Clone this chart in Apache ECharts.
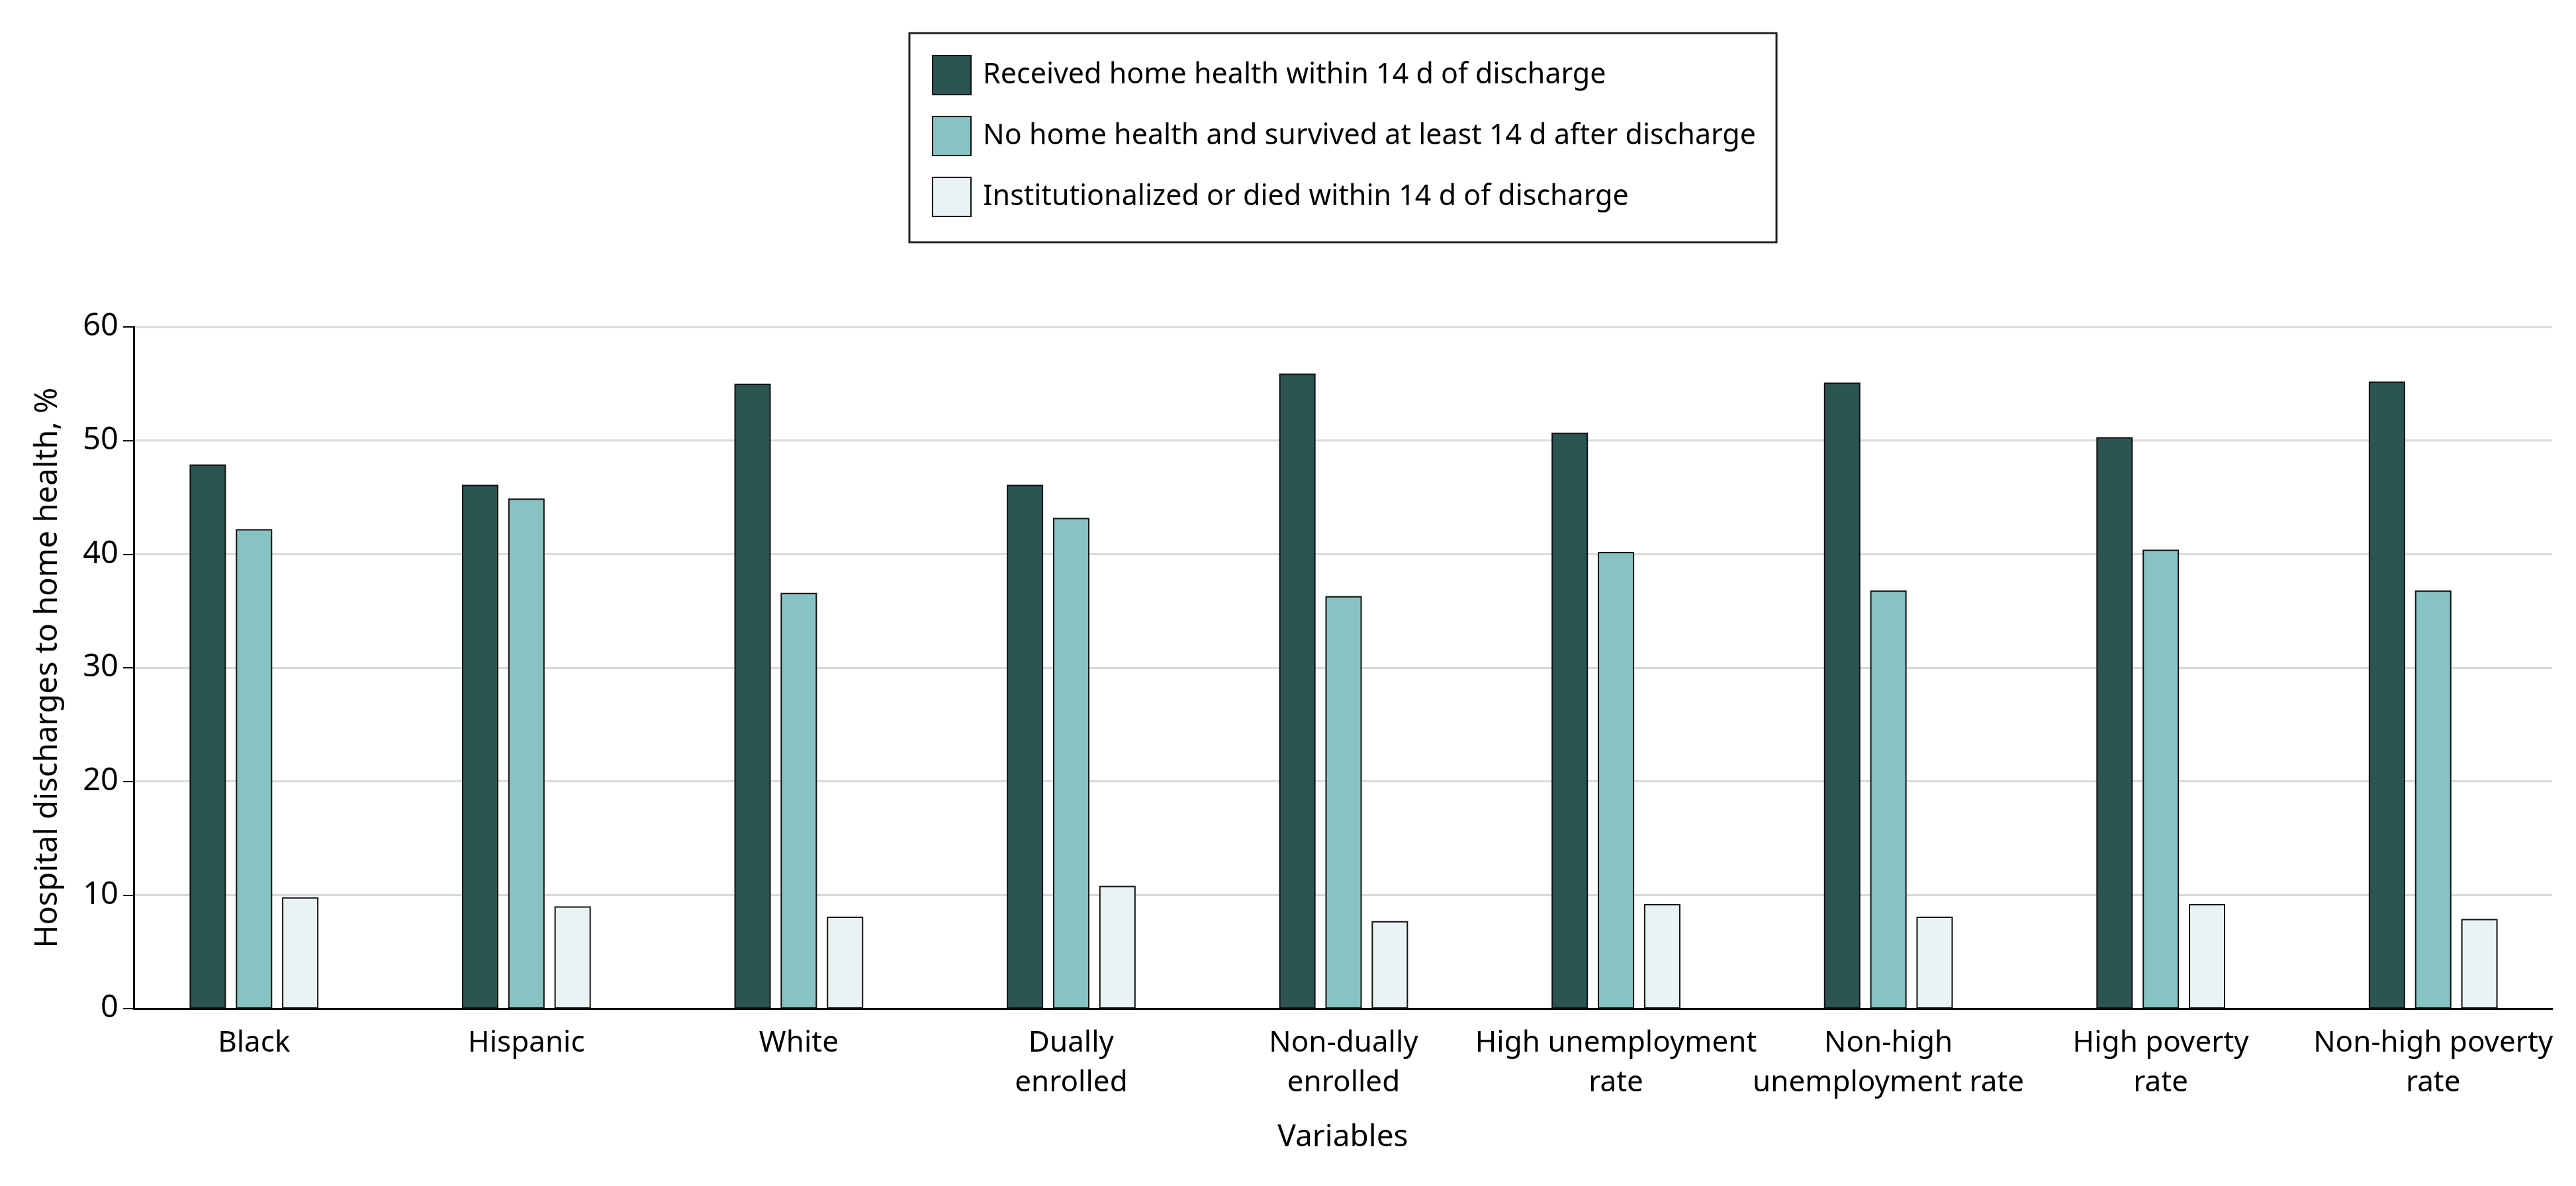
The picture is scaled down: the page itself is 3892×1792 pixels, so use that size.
<!DOCTYPE html>
<html>
<head>
<meta charset="utf-8">
<script src="https://cdn.jsdelivr.net/npm/echarts@6/dist/echarts.min.js"></script>
<style>
html,body{margin:0;padding:0;background:#fff;}
#chart{width:3892px;height:1792px;}
</style>
</head>
<body>
<div id="chart"></div>
<script>
const categories = ['Black', 'Hispanic', 'White', 'Dually\nenrolled', 'Non-dually\nenrolled',
  'High unemployment\nrate', 'Non-high\nunemployment rate', 'High poverty\nrate', 'Non-high poverty\nrate'];
const seriesNames = ['Received home health within 14 d of discharge',
  'No home health and survived at least 14 d after discharge',
  'Institutionalized or died within 14 d of discharge'];
const receivedHH = [47.9, 46.1, 55.0, 46.1, 55.9, 50.7, 55.1, 50.3, 55.2];
const noHHSurvived = [42.2, 44.9, 36.6, 43.2, 36.3, 40.2, 36.8, 40.4, 36.8];
const instDied = [9.8, 9.0, 8.1, 10.8, 7.7, 9.2, 8.1, 9.2, 7.9];
const yTicks = [0, 10, 20, 30, 40, 50, 60];
const colors = ['#2b5453', '#87c3c2', '#eaf3f4'];
const FONT = 'Noto Sans';

const chart = echarts.init(document.getElementById('chart'), null, {renderer: 'canvas'});
const values = [receivedHH, noHHSurvived, instDied];
const option = {
  backgroundColor: '#ffffff',
  animation: false,
  textStyle: {fontFamily: FONT, color: '#000'},
  legend: {
    orient: 'vertical',
    left: 1374, top: 50,
    padding: [33, 31, 38, 34],
    itemWidth: 58, itemHeight: 59, itemGap: 31,
    borderColor: '#222', borderWidth: 3,
    icon: 'rect',
    data: seriesNames,
    textStyle: {fontFamily: FONT, fontSize: 43, color: '#000', padding: [0, 0, 0, 13]}
  },
  grid: [
    {left: 178, right: 10, top: 494, bottom: 268},
    {left: 202, right: 36, top: 494, bottom: 268}
  ],
  xAxis: [
    {
      type: 'category', gridIndex: 0, data: categories,
      axisLine: {show: false}, axisTick: {show: false}, splitLine: {show: false},
      axisLabel: {margin: 22, fontSize: 44, lineHeight: 60, color: '#000', fontFamily: FONT, interval: 0}
    },
    {
      type: 'value', gridIndex: 1, min: 0, max: 1,
      axisLine: {show: true, lineStyle: {color: '#000', width: 3}},
      axisTick: {show: false}, axisLabel: {show: false}, splitLine: {show: false},
      name: 'Variables', nameLocation: 'middle', nameGap: 172,
      nameTextStyle: {fontSize: 46, color: '#000', fontFamily: FONT}
    }
  ],
  yAxis: [
    {type: 'value', gridIndex: 0, min: 0, max: 60, interval: 10, show: false, splitLine: {show: false}},
    {
      type: 'value', gridIndex: 1, min: 0, max: 60, interval: 10,
      axisLine: {show: true, lineStyle: {color: '#000', width: 3}},
      axisTick: {show: true, length: 16, lineStyle: {color: '#000', width: 2}},
      axisLabel: {margin: 23, fontSize: 47, color: '#000', fontFamily: FONT,
        formatter: v => yTicks.includes(v) ? String(v) : ''},
      splitLine: {show: true, lineStyle: {color: '#d9d9d9', width: 3}},
      name: 'Hospital discharges to home health, %', nameLocation: 'middle', nameGap: 106,
      nameTextStyle: {fontSize: 47, color: '#000', fontFamily: FONT}
    }
  ],
  series: seriesNames.map((name, i) => ({
    name: name, type: 'bar', xAxisIndex: 0, yAxisIndex: 0,
    data: values[i], barWidth: 55, barGap: '27%',
    itemStyle: {color: colors[i], borderColor: '#111', borderWidth: 2},
    z: 3
  }))
};
chart.setOption(option);
</script>
</body>
</html>
